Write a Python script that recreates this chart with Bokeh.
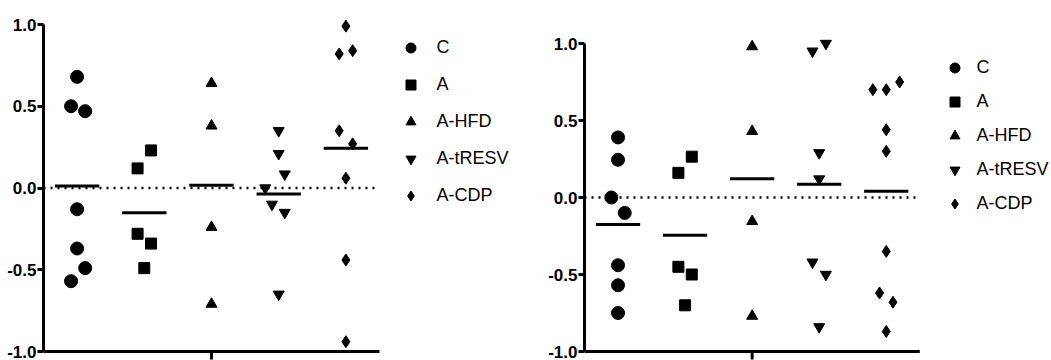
from bokeh.plotting import figure
from bokeh.layouts import row
from bokeh.models import FixedTicker, Legend, LegendItem, PrintfTickFormatter, Range1d
from bokeh.embed import file_html
from bokeh.resources import INLINE
import numpy as np

groups = ["C", "A", "A-HFD", "A-tRESV", "A-CDP"]
markers = ["circle", "square", "triangle", "inverted_triangle", "diamond"]
marker_sizes = [13, 11, 11, 11, 12]
y_ticks = [-1.0, -0.5, 0.0, 0.5, 1.0]

# ---- left panel values ----
left_C = [0.68, 0.50, 0.47, -0.13, -0.37, -0.49, -0.57]
left_A = [0.23, 0.12, -0.28, -0.34, -0.49]
left_HFD = [0.64, 0.38, -0.24, -0.71]
left_tRESV = [0.35, 0.21, 0.085, 0.0, -0.10, -0.15, -0.65]
left_CDP = [0.99, 0.82, 0.84, 0.35, 0.27, 0.06, -0.44, -0.94]

# ---- right panel values ----
right_C = [0.39, 0.245, 0.0, -0.10, -0.44, -0.57, -0.75]
right_A = [0.265, 0.16, -0.45, -0.50, -0.70]
right_HFD = [0.98, 0.43, -0.155, -0.77]
right_tRESV = [0.95, 1.0, 0.29, 0.12, -0.42, -0.50, -0.84]
right_CDP = [0.70, 0.70, 0.75, 0.44, 0.30, -0.35, -0.62, -0.68, -0.87]

# horizontal scatter (jitter) of each point within its column, in category units
left_C_jit = [0, -0.09, 0.12, 0, 0, 0.12, -0.09]
left_A_jit = [0.1, -0.1, -0.1, 0.1, 0]
left_HFD_jit = [0, 0, 0, 0]
left_tRESV_jit = [0, 0, 0.09, -0.2, -0.1, 0.09, 0]
left_CDP_jit = [0, -0.1, 0.1, -0.1, 0.1, 0, 0, 0]

right_C_jit = [0, 0, -0.1, 0.1, 0, 0, 0]
right_A_jit = [0.1, -0.1, -0.1, 0.1, 0]
right_HFD_jit = [0, 0, 0, 0]
right_tRESV_jit = [-0.1, 0.1, 0, 0, -0.1, 0.1, 0]
right_CDP_jit = [-0.2, 0, 0.2, 0, 0, 0, -0.1, 0.1, 0]

left_vals = [left_C, left_A, left_HFD, left_tRESV, left_CDP]
left_jits = [left_C_jit, left_A_jit, left_HFD_jit, left_tRESV_jit, left_CDP_jit]
right_vals = [right_C, right_A, right_HFD, right_tRESV, right_CDP]
right_jits = [right_C_jit, right_A_jit, right_HFD_jit, right_tRESV_jit, right_CDP_jit]

FONT = "Liberation Sans"
PX_PER_UNIT = 67.2
HEIGHT = 360


def make_panel(vals, jits, width, left_border, top_px, bottom_px,
               leg_x, leg_y, leg_spacing, leg_standoff):
    # top_px / bottom_px: pixel rows (from figure top) where 1.0 and -1.0 sit
    s = (bottom_px - top_px) / 2.0
    y_hi = 1.0 + top_px / s
    y_lo = -1.0 - (HEIGHT - bottom_px) / s
    tick_end = -1.0 - 8 / s
    frame_w = width - left_border
    p = figure(width=width, height=HEIGHT, output_backend="svg", toolbar_location=None,
               title=None, frame_align=False,
               x_range=Range1d(0.5, 0.5 + frame_w / PX_PER_UNIT),
               y_range=Range1d(y_lo, y_hi),
               min_border_left=left_border, min_border_right=0,
               min_border_top=0, min_border_bottom=0,
               outline_line_color=None, background_fill_color="white",
               border_fill_color="white")
    p.grid.visible = False
    p.xaxis.visible = False

    n = len(groups)
    mid = (n + 1) / 2
    # x axis line at y = -1 and its single centre tick
    p.line([0.5, n + 0.5], [-1.0, -1.0], line_color="black", line_width=3)
    p.line([mid, mid], [-1.0, tick_end], line_color="black", line_width=3)
    # dotted zero line
    p.line([0.5, n + 0.5], [0, 0], line_color="black", line_width=2.5, line_dash="2 5")

    items = []
    for i, (g, v, j) in enumerate(zip(groups, vals, jits)):
        xs = [i + 1 + d for d in j]
        r = p.scatter(xs, v, marker=markers[i], size=marker_sizes[i],
                      fill_color="black", line_color="black")
        m = float(np.mean(v))
        p.segment(x0=[i + 1 - 0.33], y0=[m], x1=[i + 1 + 0.33], y1=[m],
                  line_color="black", line_width=3)
        items.append(LegendItem(label=g, renderers=[r]))

    leg = Legend(items=items, location=(leg_x, leg_y), glyph_width=25, glyph_height=25,
                 spacing=leg_spacing, label_standoff=leg_standoff, padding=0, margin=0,
                 border_line_color=None, background_fill_alpha=0,
                 label_text_font=FONT, label_text_font_size="18px",
                 label_text_color="black", label_height=25)
    p.add_layout(leg)

    ya = p.yaxis[0]
    ya.ticker = FixedTicker(ticks=y_ticks)
    ya.formatter = PrintfTickFormatter(format="%.1f")
    ya.bounds = (-1.0, 1.0)
    ya.axis_line_width = 3
    ya.major_tick_line_width = 3
    ya.major_tick_out = 6
    ya.major_tick_in = 0
    ya.minor_tick_line_color = None
    ya.major_label_standoff = 1
    ya.major_label_text_font = FONT
    ya.major_label_text_font_style = "bold"
    ya.major_label_text_font_size = "17px"
    ya.major_label_text_color = "black"
    return p


p1 = make_panel(left_vals, left_jits, width=545, left_border=43, top_px=24, bottom_px=351,
                leg_x=354.5, leg_y=152.5, leg_spacing=12, leg_standoff=14)
p2 = make_panel(right_vals, right_jits, width=506, left_border=38, top_px=43, bottom_px=351,
                leg_x=357.5, leg_y=144.5, leg_spacing=9, leg_standoff=10)

layout = row(p1, p2, spacing=0)
open("out.html", "w").write(file_html(layout, INLINE))
